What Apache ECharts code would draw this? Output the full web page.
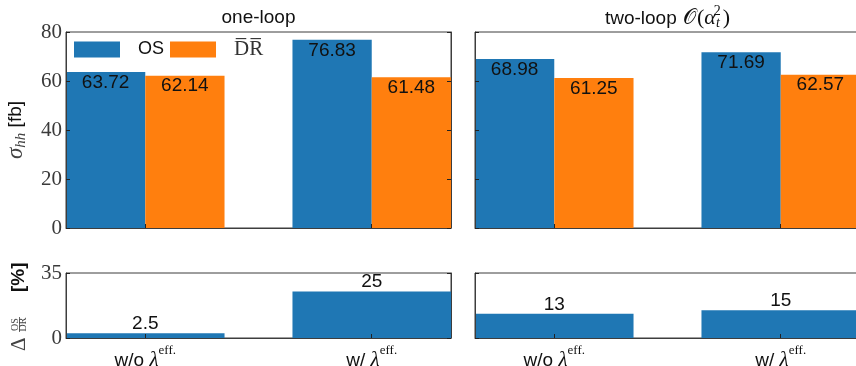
<!DOCTYPE html>
<html>
<head>
<meta charset="utf-8">
<script src="https://cdn.jsdelivr.net/npm/echarts@6/dist/echarts.min.js"></script>
<style>
  html, body { margin: 0; padding: 0; background: #fff; }
  #chart { width: 856px; height: 366px; }
</style>
</head>
<body>
<div id="chart"></div>
<script>
// Cross sections sigma_hh [fb] for the two renormalisation schemes,
// with and without the effective trilinear coupling.
const categories = ['w/o', 'w/'];
const schemeNames = ['OS', 'DR'];
const osOneLoop = [63.72, 76.83];
const drOneLoop = [62.14, 61.48];
const osTwoLoop = [68.98, 71.69];
const drTwoLoop = [61.25, 62.57];
// Relative OS/DR difference in percent
const deltaOneLoop = [2.5, 25];
const deltaTwoLoop = [13, 15];
// Axis ranges
const sigmaMax = 80, sigmaStep = 20;
const deltaMax = 35;
const categoryPositions = [0, 1];

const BLUE = '#1f77b4', ORANGE = '#ff7f0e';
const FRAME = '#3d3d3d';
const SERIF = '"Liberation Serif", "DejaVu Serif", serif';
const SANS = '"Liberation Sans", "DejaVu Sans", sans-serif';

// panel geometry (pixels)
const colLeft = [66, 475];
const colWidth = 385;
const rowTop = [32, 273];
const rowHeight = [196, 65];
const xMin = -0.35, xMax = 1.35;
const pxPerUnit = colWidth / (xMax - xMin);
const barW = 0.35 * pxPerUnit;

const grids = [];
for (let r = 0; r < 2; r++) {
  for (let c = 0; c < 2; c++) {
    grids.push({
      left: colLeft[c], top: rowTop[r], width: colWidth, height: rowHeight[r],
      containLabel: false, outerBoundsMode: 'none',
      show: true, borderColor: FRAME, borderWidth: 1, backgroundColor: 'transparent'
    });
  }
}

const xRich = {
  a: { fontFamily: SANS, fontSize: 19, color: '#111' },
  l: { fontFamily: SERIF, fontStyle: 'italic', fontSize: 21, color: '#111' },
  e: { fontFamily: SERIF, fontSize: 13, color: '#111', padding: [0, 0, 20, 0] }
};

function xAxisFor(gridIndex, withLabels) {
  return {
    type: 'value', gridIndex, min: xMin, max: xMax, z: 5,
    axisLine: { show: true, onZero: false, lineStyle: { color: FRAME, width: 1 } },
    axisTick: { show: true, inside: true, length: 4, customValues: categoryPositions,
      lineStyle: { color: '#222' } },
    axisLabel: withLabels ? {
      show: true, customValues: categoryPositions, margin: 6,
      formatter: v => '{a|' + categories[Math.round(v)] + ' }{l|λ}{e|eff.}',
      rich: xRich
    } : { show: false },
    splitLine: { show: false }
  };
}

function yAxisFor(gridIndex, max, interval, withLabels, position, extra) {
  return Object.assign({
    type: 'value', gridIndex, min: 0, max, interval, position, z: 5,
    axisLine: { show: true, onZero: false, lineStyle: { color: FRAME, width: 1 } },
    axisTick: { show: true, inside: true, length: 4, lineStyle: { color: '#222' } },
    axisLabel: withLabels ? {
      show: true, margin: 4, fontFamily: SERIF, fontSize: 21, color: '#3a3a3a'
    } : { show: false },
    splitLine: { show: false }
  }, extra || {});
}

const xAxes = [
  xAxisFor(0, false), xAxisFor(1, false),
  xAxisFor(2, true), xAxisFor(3, true)
];

const yAxes = [
  yAxisFor(0, sigmaMax, sigmaStep, true, 'left', {
    name: '{s|σ}{h|hh}{f| [fb]}',
    nameLocation: 'middle', nameRotate: 90, nameGap: 37,
    nameTextStyle: {
      rich: {
        s: { fontFamily: SERIF, fontStyle: 'italic', fontSize: 23, color: '#444' },
        h: { fontFamily: SERIF, fontStyle: 'italic', fontSize: 15, color: '#444', padding: [12, 0, 0, 0] },
        f: { fontFamily: SANS, fontSize: 19, color: '#111' }
      }
    }
  }),
  yAxisFor(1, sigmaMax, sigmaStep, false, 'left'),
  yAxisFor(2, deltaMax, deltaMax, true, 'left'),
  yAxisFor(3, deltaMax, deltaMax, false, 'left'),
  // right-hand frame with inward ticks for the left column
  yAxisFor(0, sigmaMax, sigmaStep, false, 'right'),
  yAxisFor(2, deltaMax, deltaMax, false, 'right')
];

const pairs = v => v.map((y, i) => [categoryPositions[i], y]);

const valueLabelInside = {
  show: true, position: 'insideTop', distance: 1,
  fontFamily: SANS, fontSize: 19, color: '#111',
  formatter: p => p.value[1].toFixed(2)
};
const valueLabelTop = {
  show: true, position: 'top', distance: 0,
  fontFamily: SANS, fontSize: 19, color: '#111',
  formatter: p => String(p.value[1])
};

function crossSeries(name, data, color, axisIndex) {
  return {
    type: 'bar', name, xAxisIndex: axisIndex, yAxisIndex: axisIndex,
    data: pairs(data), barWidth: barW, barGap: '0%',
    itemStyle: { color }, label: valueLabelInside, silent: true
  };
}
function deltaSeries(data, axisIndex) {
  return {
    type: 'bar', name: 'delta', xAxisIndex: axisIndex, yAxisIndex: axisIndex,
    data: pairs(data), barWidth: 2 * barW,
    itemStyle: { color: BLUE }, label: valueLabelTop, silent: true
  };
}

const titleStyle = { fontFamily: SANS, fontSize: 19, fontWeight: 'normal', color: '#111' };

const option = {
  animation: false,
  backgroundColor: '#fff',
  title: [
    { text: 'one-loop', left: colLeft[0] + colWidth / 2, top: 8, textAlign: 'center',
      padding: 0, textStyle: titleStyle },
    { text: '{a|two-loop }{o|𝒪}{m|(}{g|α}{t|t}{u|2}{m|)}',
      left: colLeft[1] + colWidth / 2, top: 4, textAlign: 'center', padding: 0,
      textStyle: Object.assign({}, titleStyle, {
        rich: {
          a: { fontFamily: SANS, fontSize: 19, color: '#111' },
          o: { fontFamily: '"DejaVu Sans", serif', fontSize: 21, color: '#111', padding: [0, 1, 0, 1] },
          m: { fontFamily: SERIF, fontSize: 22, color: '#111' },
          g: { fontFamily: SERIF, fontStyle: 'italic', fontSize: 22, color: '#111' },
          t: { fontFamily: SERIF, fontStyle: 'italic', fontSize: 14, color: '#111', padding: [10, 0, 0, 0] },
          u: { fontFamily: SERIF, fontSize: 14, color: '#111', padding: [0, 2, 15, -6] }
        }
      }) }
  ],
  legend: {
    data: schemeNames, left: 74, top: 39, padding: 0,
    itemWidth: 46, itemHeight: 16, itemGap: 6, icon: 'rect',
    selectedMode: false,
    formatter: n => n === 'DR' ? '{d|D\u0305R\u0305}' : '{s|' + n + '}',
    textStyle: {
      rich: {
        s: { fontFamily: SANS, fontSize: 18, color: '#111', padding: [0, 0, 0, 13] },
        d: { fontFamily: SERIF, fontSize: 21, color: '#333', padding: [0, 0, 0, 13] }
      }
    }
  },
  grid: grids,
  xAxis: xAxes,
  yAxis: yAxes,
  series: [
    crossSeries('OS', osOneLoop, BLUE, 0),
    crossSeries('DR', drOneLoop, ORANGE, 0),
    crossSeries('OS', osTwoLoop, BLUE, 1),
    crossSeries('DR', drTwoLoop, ORANGE, 1),
    deltaSeries(deltaOneLoop, 2),
    deltaSeries(deltaTwoLoop, 3)
  ],
  graphic: [{
    // rotated axis title: Delta^{OS}_{DR} [%]
    type: 'group', x: 26, y: 307, rotation: Math.PI / 2, silent: true,
    children: [
      { type: 'text', x: -44, y: -7, style: { text: 'Δ', fontFamily: SERIF, fontSize: 21,
        fill: '#444', align: 'left', verticalAlign: 'middle' } },
      { type: 'text', x: -17.5, y: -11, style: { text: 'OS', fontFamily: SERIF, fontSize: 10,
        fill: '#444', align: 'center', verticalAlign: 'middle' } },
      { type: 'line', shape: { x1: -25, y1: -6.5, x2: -10, y2: -6.5 },
        style: { stroke: '#444', lineWidth: 0.8 } },
      { type: 'text', x: -17.5, y: -2.5, style: { text: 'DR', fontFamily: SERIF, fontSize: 10,
        fill: '#444', align: 'center', verticalAlign: 'middle' } },
      { type: 'text', x: 15, y: -7, style: { text: '[%]', fontFamily: SANS, fontSize: 19,
        fontWeight: 'bold', fill: '#111', align: 'left', verticalAlign: 'middle' } }
    ]
  }]
};

const chart = echarts.init(document.getElementById('chart'), null, { renderer: 'canvas' });
chart.setOption(option);
</script>
</body>
</html>
